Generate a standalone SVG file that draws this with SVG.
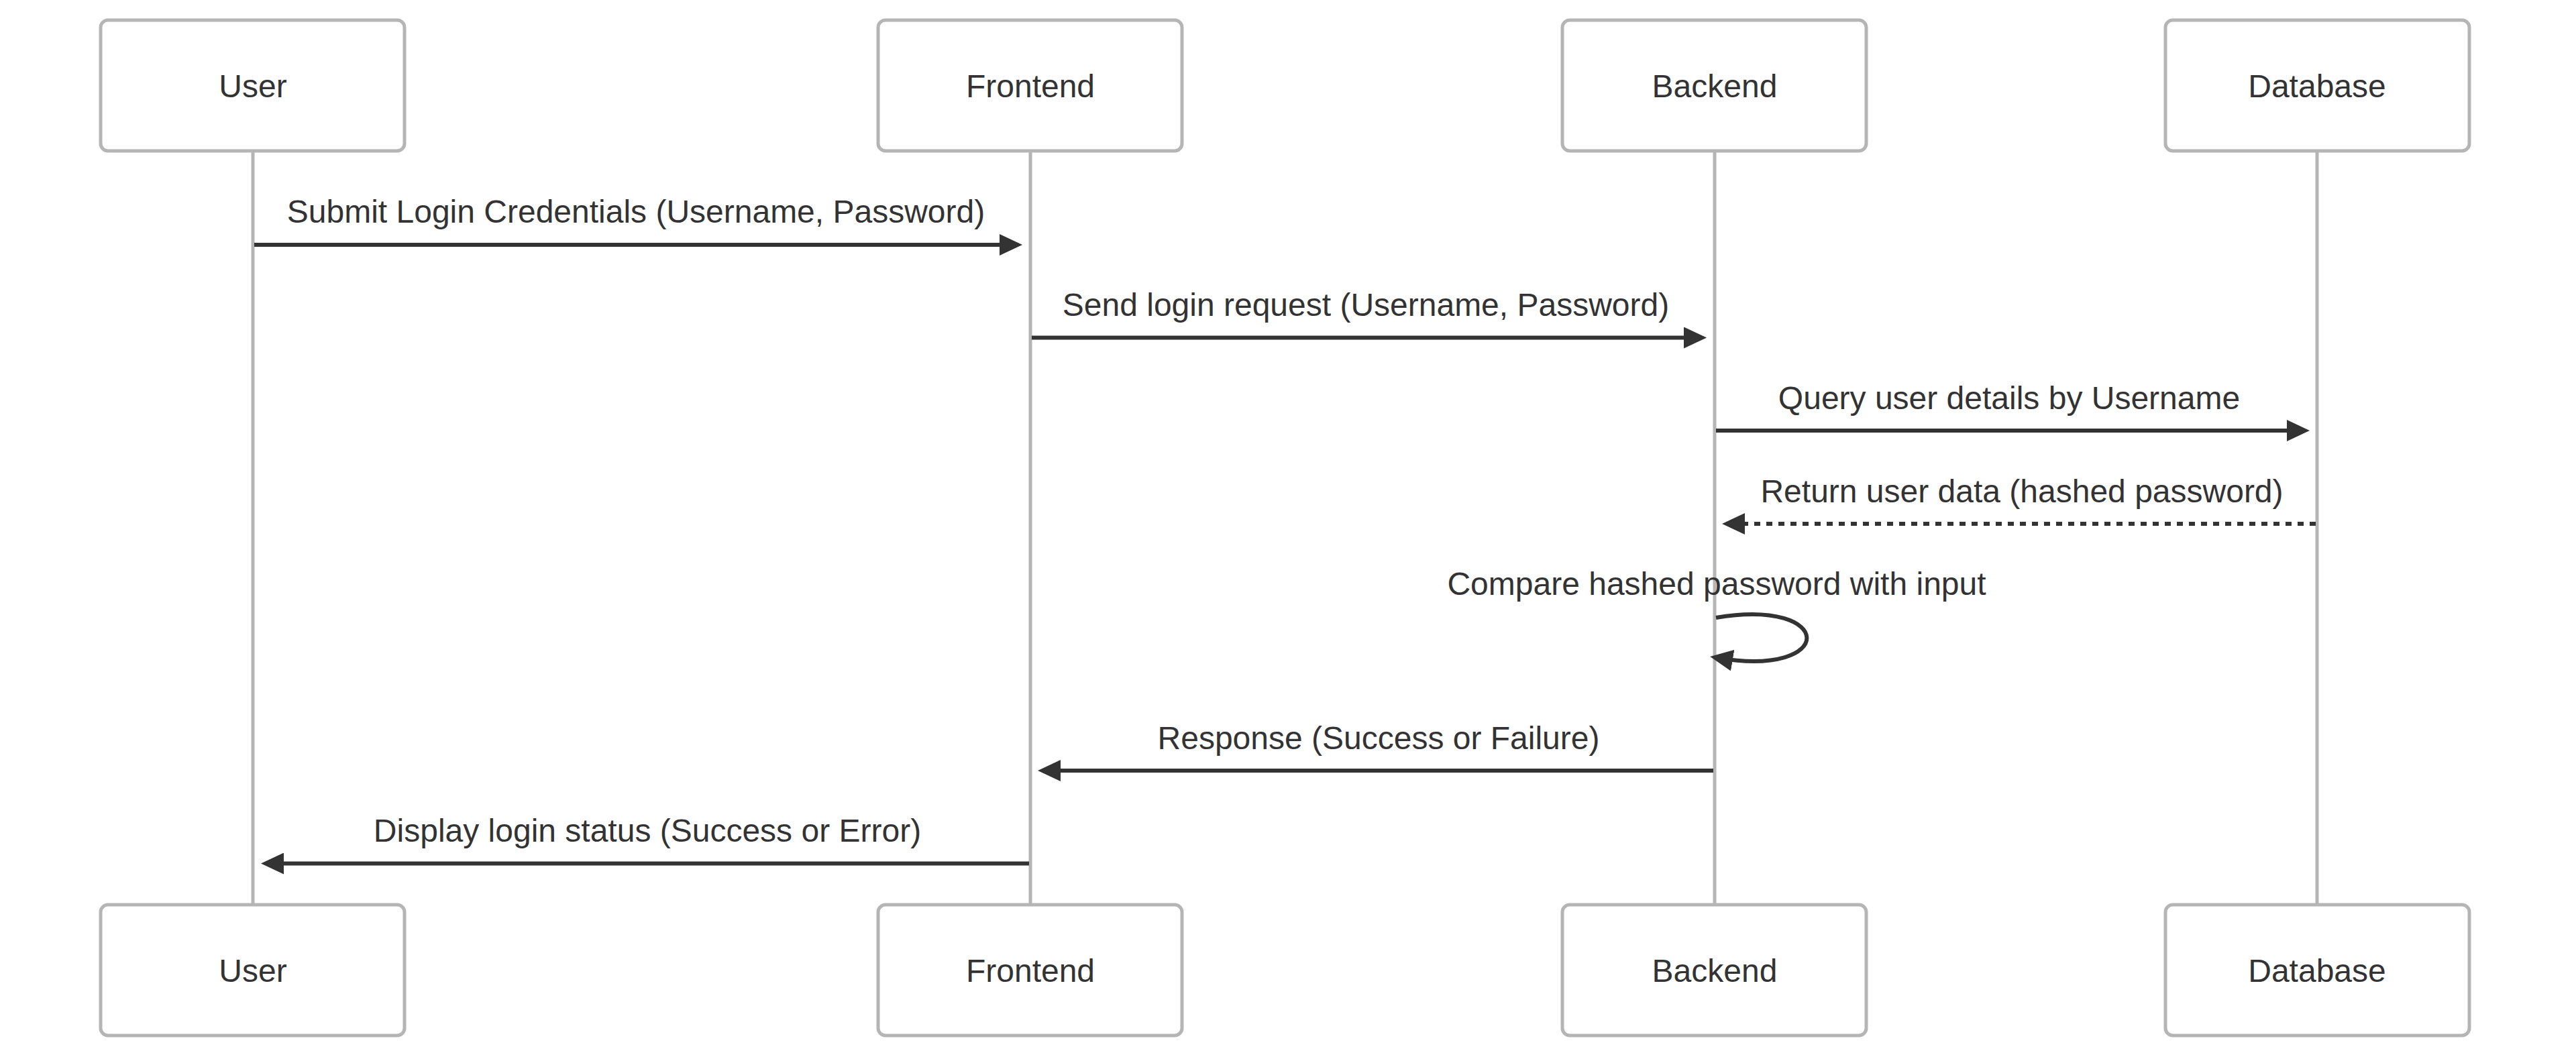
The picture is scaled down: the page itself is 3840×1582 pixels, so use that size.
<svg xmlns="http://www.w3.org/2000/svg" width="3840" height="1582" viewBox="0 0 3840 1582">
<style>
.actor{fill:#ffffff;stroke:#b5b5b5;stroke-width:5}
.life{stroke:#b5b5b5;stroke-width:5}
.atext{font-family:"Liberation Sans",Arial,sans-serif;font-size:48px;fill:#333333;text-anchor:middle}
.mtext{font-family:"Liberation Sans",Arial,sans-serif;font-size:48px;fill:#333333;text-anchor:middle}
.msg{stroke:#333333;stroke-width:6;fill:none;marker-end:url(#arrow)}
.dash{stroke-dasharray:9,9}
</style>
<defs>
<marker id="arrow" markerUnits="userSpaceOnUse" viewBox="0 0 34 32" markerWidth="34" markerHeight="32" refX="22" refY="16" orient="auto">
<path d="M0,0 L34,16 L0,32 z" fill="#333333"/>
</marker>
</defs>
<rect width="3840" height="1582" fill="#ffffff"/>
<g id="lifelines">
<line class="life" x1="377" y1="225" x2="377" y2="1349"/>
<line class="life" x1="1536" y1="225" x2="1536" y2="1349"/>
<line class="life" x1="2556" y1="225" x2="2556" y2="1349"/>
<line class="life" x1="3454" y1="225" x2="3454" y2="1349"/>
</g>
<g id="user-top"><rect class="actor" x="150" y="30" width="453" height="195" rx="11"/><text class="atext" x="377" y="145">User</text></g>
<g id="frontend-top"><rect class="actor" x="1309" y="30" width="453" height="195" rx="11"/><text class="atext" x="1536" y="145">Frontend</text></g>
<g id="backend-top"><rect class="actor" x="2329" y="30" width="453" height="195" rx="11"/><text class="atext" x="2556" y="145">Backend</text></g>
<g id="database-top"><rect class="actor" x="3228" y="30" width="453" height="195" rx="11"/><text class="atext" x="3454" y="145">Database</text></g>
<g id="user-bottom"><rect class="actor" x="150" y="1349" width="453" height="195" rx="11"/><text class="atext" x="377" y="1464">User</text></g>
<g id="frontend-bottom"><rect class="actor" x="1309" y="1349" width="453" height="195" rx="11"/><text class="atext" x="1536" y="1464">Frontend</text></g>
<g id="backend-bottom"><rect class="actor" x="2329" y="1349" width="453" height="195" rx="11"/><text class="atext" x="2556" y="1464">Backend</text></g>
<g id="database-bottom"><rect class="actor" x="3228" y="1349" width="453" height="195" rx="11"/><text class="atext" x="3454" y="1464">Database</text></g>
<g id="connectors">
<line class="msg" x1="379" y1="365" x2="1512" y2="365"/>
<text class="mtext" x="948" y="332">Submit Login Credentials (Username, Password)</text>
<line class="msg" x1="1538" y1="503.5" x2="2532" y2="503.5"/>
<text class="mtext" x="2036" y="471">Send login request (Username, Password)</text>
<line class="msg" x1="2558" y1="642" x2="3431" y2="642"/>
<text class="mtext" x="2995" y="610">Query user details by Username</text>
<line class="msg dash" x1="3452" y1="781" x2="2579" y2="781"/>
<text class="mtext" x="3014" y="749">Return user data (hashed password)</text>
<path class="msg" d="M2558,921 C2738,891 2738,1011 2561,981"/>
<text class="mtext" x="2559" y="887">Compare hashed password with input</text>
<line class="msg" x1="2554" y1="1149" x2="1559" y2="1149"/>
<text class="mtext" x="2055" y="1117">Response (Success or Failure)</text>
<line class="msg" x1="1534" y1="1287.5" x2="401" y2="1287.5"/>
<text class="mtext" x="965" y="1255">Display login status (Success or Error)</text>
</g>
</svg>
